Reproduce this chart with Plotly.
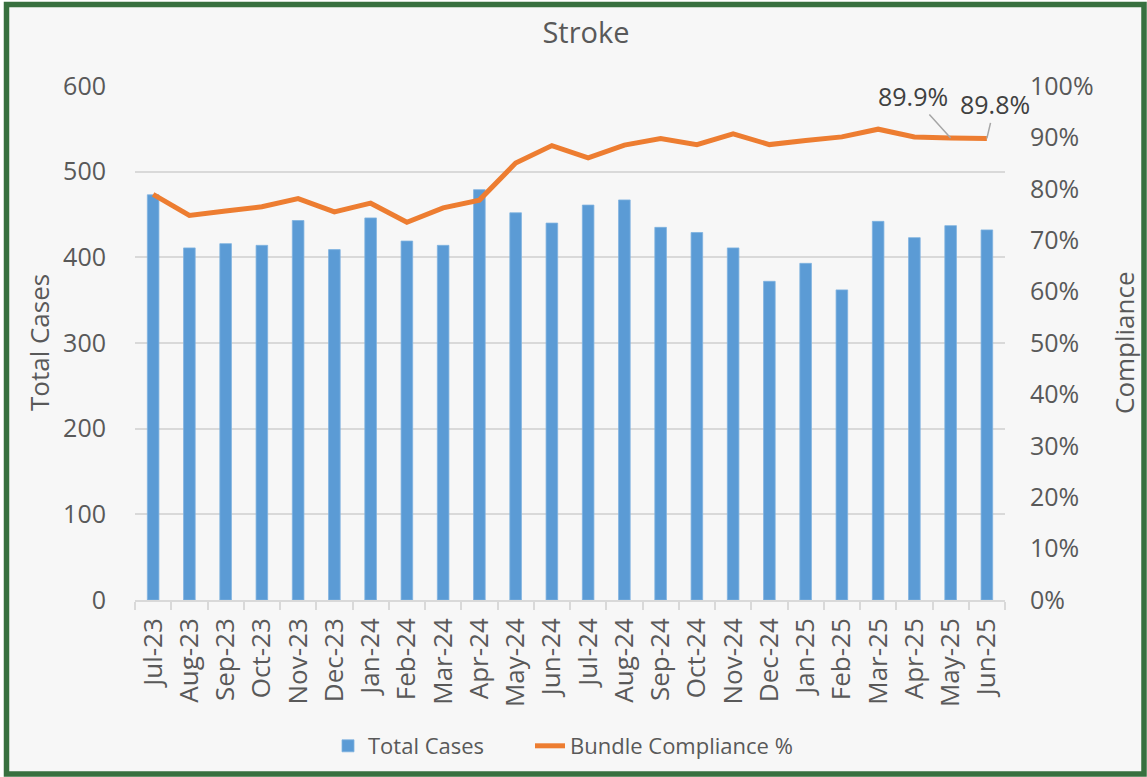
import plotly.graph_objects as go

months = ["Jul-23", "Aug-23", "Sep-23", "Oct-23", "Nov-23", "Dec-23",
          "Jan-24", "Feb-24", "Mar-24", "Apr-24", "May-24", "Jun-24",
          "Jul-24", "Aug-24", "Sep-24", "Oct-24", "Nov-24", "Dec-24",
          "Jan-25", "Feb-25", "Mar-25", "Apr-25", "May-25", "Jun-25"]
total_cases = [473, 411, 416, 414, 443, 409, 446, 419, 414, 479, 452, 440,
               461, 467, 435, 429, 411, 372, 393, 362, 442, 423, 437, 432]
compliance = [0.789, 0.748, 0.757, 0.765, 0.781, 0.755, 0.772, 0.735, 0.763, 0.778, 0.850, 0.884,
              0.860, 0.885, 0.898, 0.886, 0.907, 0.886, 0.894, 0.901, 0.916, 0.901, 0.899, 0.898]
labelled = ["May-25", "Jun-25"]
label_offsets = {"May-25": (-38, -42), "Jun-25": (8, -34)}

FONT = "Open Sans"
GREY = "#595959"
W, H = 1147, 777
L, R, T, B = 135, 142, 86, 177
pw, ph = W - L - R, H - T - B

def px(x):
    return (x - L) / pw

def py(y):
    return (H - B - y) / ph

fig = go.Figure()
fig.add_trace(go.Bar(x=months, y=total_cases, name="Total Cases", legend="legend",
                     marker=dict(color="#5b9bd5", line=dict(color="#7fb2e0", width=0.8)),
                     width=0.32))
fig.add_trace(go.Scatter(x=months, y=compliance, name="Bundle Compliance %", yaxis="y2",
                         legend="legend2",
                         mode="lines", line=dict(color="#ed7d31", width=5)))

annotations = []
for m in labelled:
    i = months.index(m)
    ax, ay = label_offsets[m]
    annotations.append(dict(x=m, y=compliance[i], xref="x", yref="y2",
                            text=f"{compliance[i]*100:.1f}%", showarrow=True,
                            arrowhead=0, arrowwidth=1.5, arrowcolor="#a6a6a6",
                            ax=ax, ay=ay, standoff=0,
                            font=dict(family=FONT, size=25, color="#404040")))
annotations.append(dict(text="Total Cases", x=px(39), y=0.5, xref="paper", yref="paper",
                        showarrow=False, textangle=-90, xanchor="center", yanchor="middle",
                        font=dict(family=FONT, size=26, color=GREY)))
annotations.append(dict(text="Compliance", x=px(1124), y=0.5, xref="paper", yref="paper",
                        showarrow=False, textangle=-90, xanchor="center", yanchor="middle",
                        font=dict(family=FONT, size=26, color=GREY)))

legend_common = dict(orientation="h", xref="container", yref="container",
                     xanchor="left", y=1 - 746 / H, yanchor="middle",
                     bgcolor="rgba(0,0,0,0)", font=dict(family=FONT, size=22, color=GREY))

fig.update_layout(
    width=W, height=H,
    margin=dict(l=L, r=R, t=T, b=B, autoexpand=False),
    paper_bgcolor="white", plot_bgcolor="#f7f7f7",
    font=dict(family=FONT, size=24, color=GREY),
    title=dict(text="Stroke", x=px(586), xref="paper", xanchor="center",
               y=1 - 33 / H, yref="container", yanchor="middle",
               font=dict(family=FONT, size=29, color=GREY)),
    xaxis=dict(type="category", range=[-0.5, len(months) - 0.5], tickangle=-90,
               showline=True, linecolor="#d9d9d9",
               linewidth=1.5, ticks="outside", tickson="boundaries", ticklen=8,
               tickcolor="#d9d9d9", tickwidth=1.5, showgrid=False, automargin=False,
               ticklabelstandoff=6,
               tickfont=dict(family=FONT, size=26, color=GREY)),
    yaxis=dict(range=[0, 600], dtick=100, gridcolor="#d9d9d9", gridwidth=1.5,
               zeroline=False, showline=False, ticks="", automargin=False,
               ticklabelstandoff=28, tickfont=dict(family=FONT, size=25, color=GREY)),
    yaxis2=dict(range=[0, 1], dtick=0.1, tickformat=".0%", overlaying="y", side="right",
                showgrid=False, zeroline=False, showline=False, ticks="", automargin=False,
                ticklabelstandoff=24, tickfont=dict(family=FONT, size=25, color=GREY)),
    showlegend=True,
    legend=dict(x=328 / W, **legend_common),
    legend2=dict(x=530 / W, **legend_common),
    bargap=0.68,
    annotations=annotations,
    shapes=[dict(type="rect", xref="paper", yref="paper",
                 x0=px(6.5), x1=px(1144), y0=py(774), y1=py(4.5),
                 line=dict(color="#38703f", width=5.5), fillcolor="#f7f7f7",
                 layer="below")],
)

fig.write_html("out.html", config={"displayModeBar": False},
               post_script="document.body.style.margin='0';document.body.style.overflow='hidden';")
